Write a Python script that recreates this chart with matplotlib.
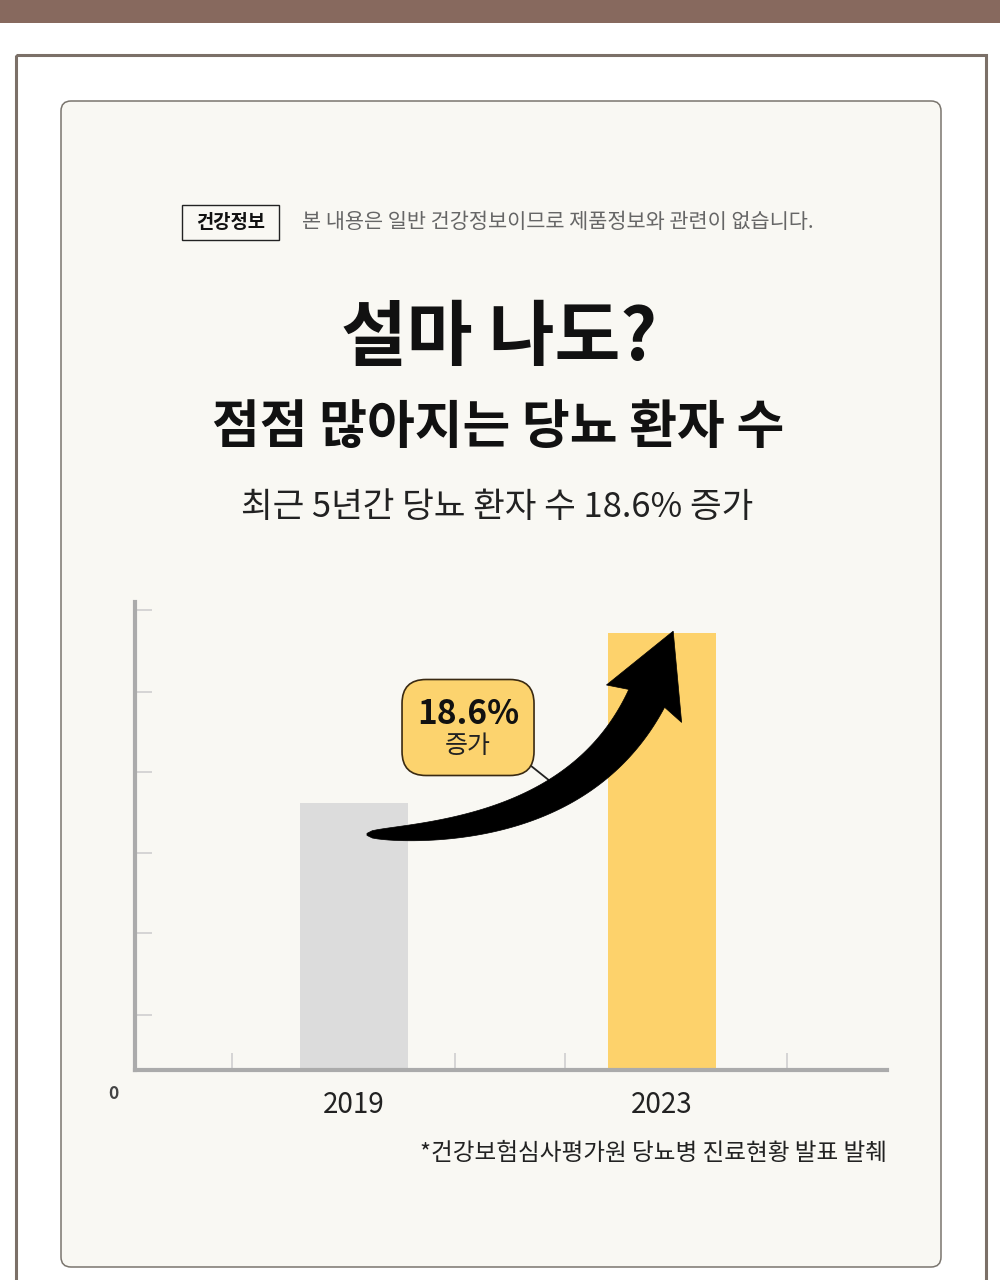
import numpy as np
import matplotlib
matplotlib.use("Agg")
import matplotlib.pyplot as plt
from matplotlib.patches import Rectangle, FancyBboxPatch, Polygon

plt.rcParams['font.family'] = ['Noto Sans CJK KR', 'DejaVu Sans']

# data
years = ['2019', '2023']
values = [3.3, 5.4]            # bar heights as drawn (relative units)
bar_colors = ['#DCDCDC', '#FDD26B']
ytick_pos = [0.68, 1.69, 2.68, 3.68, 4.67, 5.68]
xtick_pos = [-0.396, 0.328, 0.685, 1.406]
increase = '18.6%'

title1 = '설마 나도?'
title2 = '점점 많아지는 당뇨 환자 수'
subtitle = '최근 5년간 당뇨 환자 수 18.6% 증가'
badge = '건강정보'
disclaimer = '본 내용은 일반 건강정보이므로 제품정보와 관련이 없습니다.'
source = '*건강보험심사평가원 당뇨병 진료현황 발표 발췌'

W, H = 1000, 1280
fig = plt.figure(figsize=(W / 100, H / 100), dpi=100)
fig.patch.set_facecolor('white')

# background layer in pixel coordinates
bg = fig.add_axes([0, 0, 1, 1])
bg.set_xlim(0, W)
bg.set_ylim(H, 0)
bg.axis('off')
bg.add_patch(Rectangle((0, 0), W, 23, color='#87695E', lw=0))
bg.add_patch(Rectangle((16, 55), 970, 1260, fill=False, ec='#7B7068', lw=2.2))
bg.add_patch(FancyBboxPatch((61, 101), 880, 1166,
                            boxstyle='round,pad=0,rounding_size=10',
                            fc='#F9F8F3', ec='#7A756E', lw=1.1))

# header
bg.add_patch(Rectangle((182, 205), 97, 35, fill=False, ec='#222222', lw=1.0))
bg.text(230.5, 222.5, badge, ha='center', va='center', fontsize=13.5,
        fontweight='bold', color='#111111')
bg.text(302, 221.5, disclaimer, ha='left', va='center', fontsize=15,
        color='#666666')

bg.text(499, 339, title1, ha='center', va='center', fontsize=51.5,
        fontweight='bold', color='#111111')
bg.text(498, 428, title2, ha='center', va='center', fontsize=37.4,
        fontweight='bold', color='#111111')
bg.text(497, 507, subtitle, ha='center', va='center', fontsize=24.8,
        color='#222222')
bg.text(887, 1153, source, ha='right', va='center', fontsize=17,
        color='#222222')

# chart
ax = fig.add_axes([135 / W, (H - 1070) / H, 752 / W, 468 / H])
ax.set_facecolor('none')
x = np.arange(len(years))
ax.bar(x, values, width=0.35, color=bar_colors, zorder=2)
ax.set_xlim(-0.711, 1.73)
ax.set_ylim(0, 5.78)
for s in ['top', 'right']:
    ax.spines[s].set_visible(False)
for s in ['left', 'bottom']:
    ax.spines[s].set_color('#ABABAB')
    ax.spines[s].set_linewidth(3)
ax.set_yticks(ytick_pos)
ax.set_xticks(xtick_pos)
ax.tick_params(axis='both', direction='in', length=12, width=1.2,
               color='#CFCFCF', labelleft=False, labelbottom=False)
for xi, yr in zip(x, years):
    ax.text(xi, -0.43, yr, ha='center', va='center', fontsize=20,
            color='#222222', clip_on=False)
ax.text(-0.78, -0.3, '0', ha='center', va='center', fontsize=12.5,
        fontweight='bold', color='#444444', clip_on=False)

# top layer for arrow and callout
top = fig.add_axes([0, 0, 1, 1])
top.set_xlim(0, W)
top.set_ylim(H, 0)
top.axis('off')
top.set_facecolor('none')


def to_px(xd, yd):
    d = ax.transData.transform(np.column_stack([xd, yd]))
    return top.transData.inverted().transform(d)


# curved tapered arrow from the 2019 bar up to the 2023 bar
P0 = to_px([x[0] + 0.042], [values[0] - 0.39])[0]
P1 = to_px([x[1] - 0.27], [values[0] - 0.39])[0]
P2 = to_px([x[1] - 0.05], [values[1] - 0.81])[0]
tip = to_px([x[1] + 0.036], [values[1] + 0.02])[0]
t = np.linspace(0, 1, 80)[:, None]
c = (1 - t) ** 2 * P0 + 2 * (1 - t) * t * P1 + t ** 2 * P2
d = 2 * (1 - t) * (P1 - P0) + 2 * t * (P2 - P1)
d = d / np.linalg.norm(d, axis=1, keepdims=True)
n = np.column_stack([-d[:, 1], d[:, 0]])
w = 1 + 19 * t[:, 0] ** 0.45
left = c + n * w[:, None]
right = c - n * w[:, None]
end_d = d[-1]
end_n = n[-1]
barb1 = P2 + end_n * 42 - end_d * 6
barb2 = P2 - end_n * 42 - end_d * 6
body = np.vstack([left, barb1, tip, barb2, right[::-1]])
top.add_patch(Polygon(body, closed=True, fc='black', ec='black', lw=0.5,
                      zorder=3))

# callout
bx, by = to_px([0.37], [4.23])[0]
bw, bh = 132, 96
top.plot([bx + 60, bx + 85], [by + 36, by + 56], color='#222222', lw=1.3,
         zorder=2)
top.add_patch(FancyBboxPatch((bx - bw / 2, by - bh / 2), bw, bh,
                             boxstyle='round,pad=0,rounding_size=24',
                             fc='#FCD36E', ec='#3A2A12', lw=1.2, zorder=4))
top.text(bx, by - 13, increase, ha='center', va='center', fontsize=24,
         fontweight='bold', color='#111111', zorder=5)
top.text(bx, by + 18, '증가', ha='center', va='center', fontsize=18,
         color='#222222', zorder=5)

fig.savefig('out.png', dpi=100)
